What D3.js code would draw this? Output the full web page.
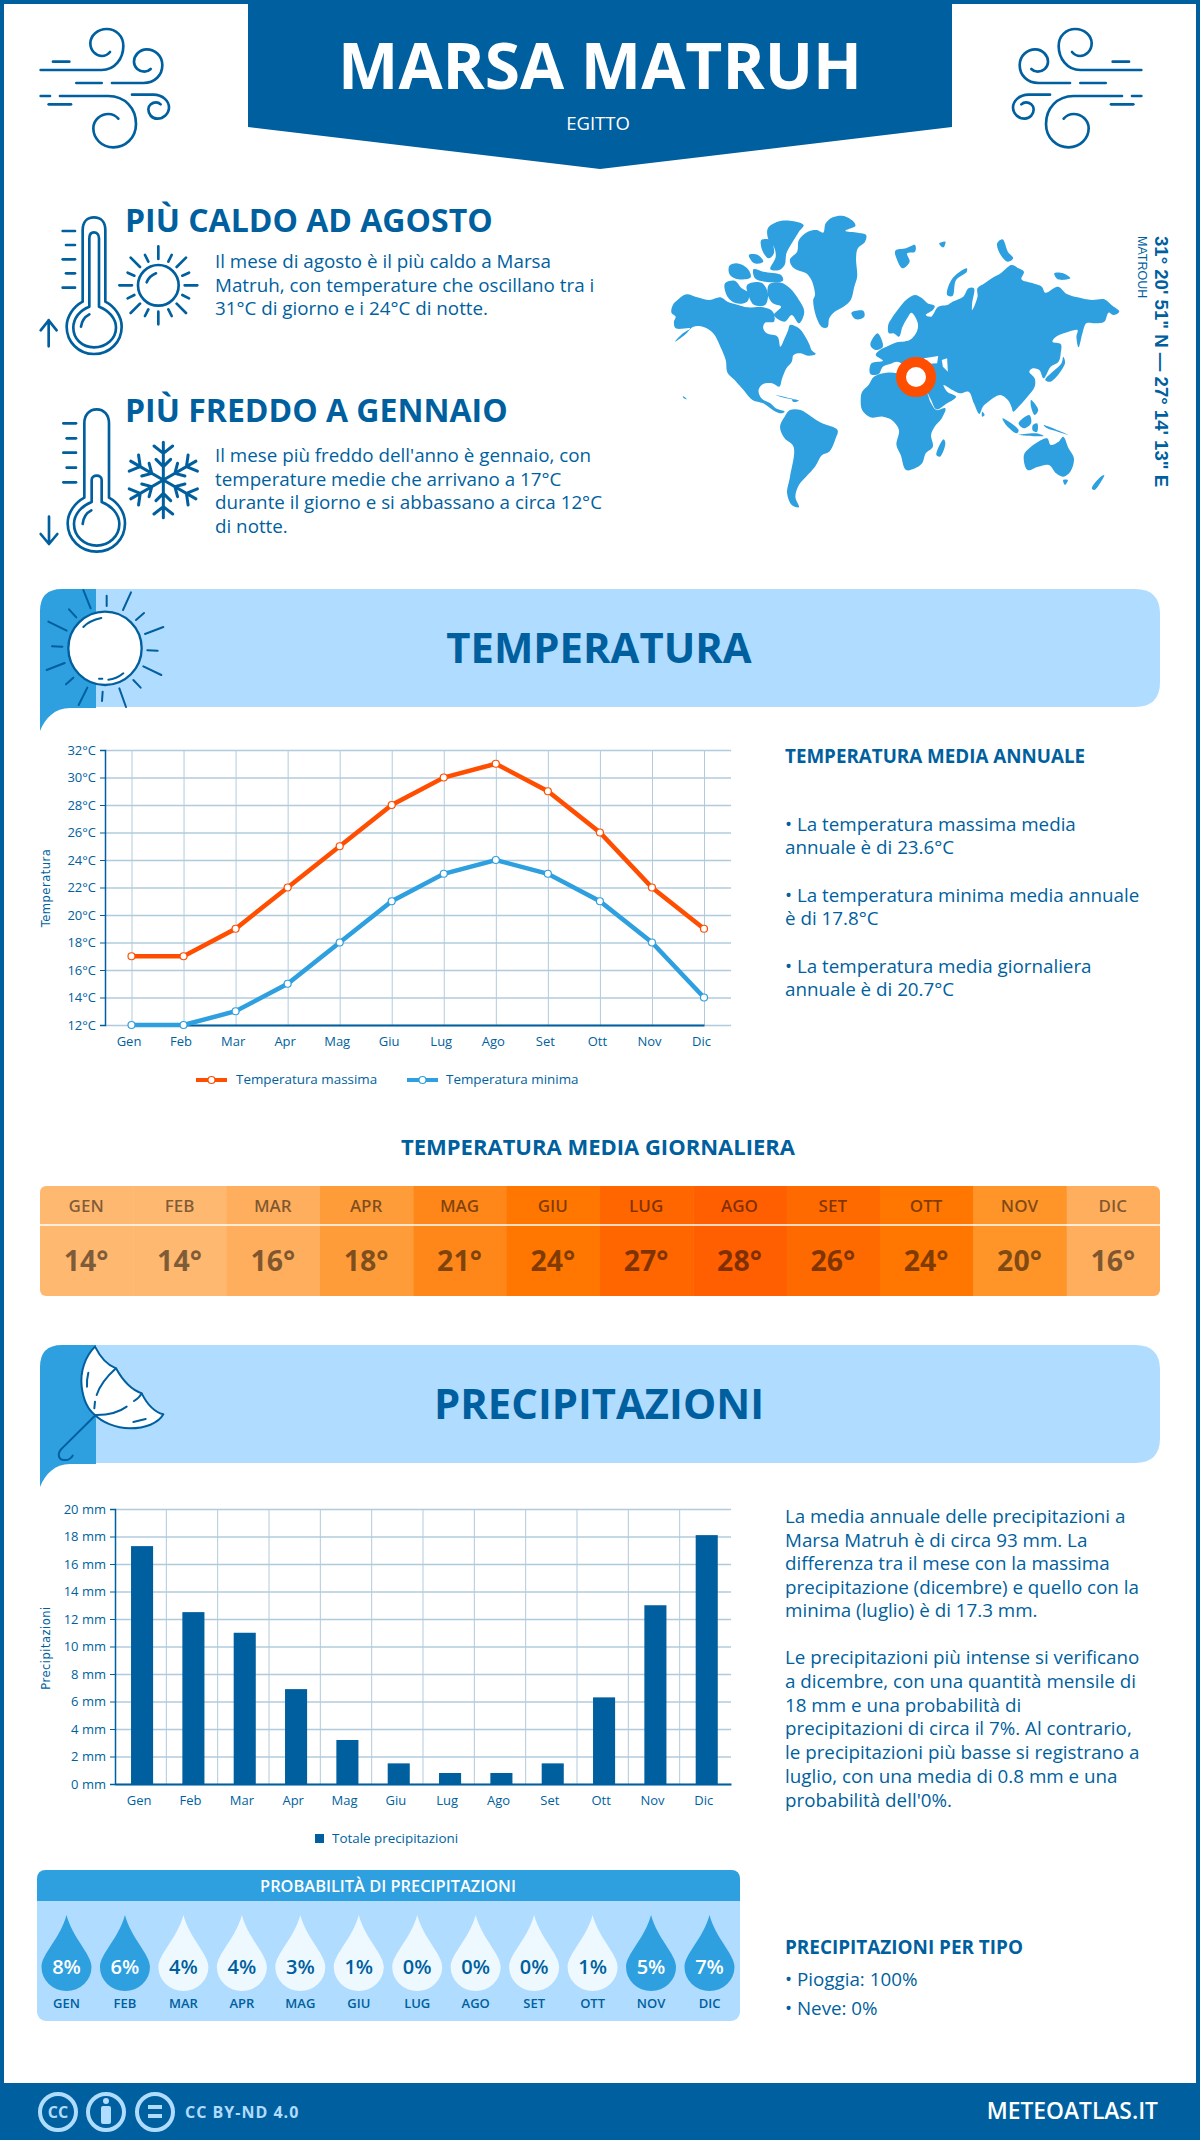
<!DOCTYPE html>
<html>
<head>
<meta charset="utf-8">
<script src="https://cdn.jsdelivr.net/npm/d3@7"></script>
<style>
    html, body { margin: 0; padding: 0; background: #fff; }
    svg { display: block; }
    text { font-family: "Open Sans", sans-serif; fill: #005f9e; }
    .axis text { font-size: 13px; }
    .grid line { stroke: #b1cbdd; }
    .grid path { stroke: none; }
    .grid text { display: none; }
</style>
</head>
<body>
<div id="chart"></div>
<script>
// data
const months = ["Gen", "Feb", "Mar", "Apr", "Mag", "Giu", "Lug", "Ago", "Set", "Ott", "Nov", "Dic"];
const monthsUpper = months.map(d => d.toUpperCase());
const tempMax = [17, 17, 19, 22, 25, 28, 30, 31, 29, 26, 22, 19];
const tempMin = [12, 12, 13, 15, 18, 21, 23, 24, 23, 21, 18, 14];
const tempMean = [14, 14, 16, 18, 21, 24, 27, 28, 26, 24, 20, 16];
const precip = [17.3, 12.5, 11, 6.9, 3.2, 1.5, 0.8, 0.8, 1.5, 6.3, 13, 18.1];
const precipProb = [8, 6, 4, 4, 3, 1, 0, 0, 0, 1, 5, 7];

const hotText = ["Il mese di agosto è il più caldo a Marsa", "Matruh, con temperature che oscillano tra i", "31°C di giorno e i 24°C di notte."];
const coldText = ["Il mese più freddo dell'anno è gennaio, con", "temperature medie che arrivano a 17°C", "durante il giorno e si abbassano a circa 12°C", "di notte."];
const tempNotes = [
    ["• La temperatura massima media", "annuale è di 23.6°C"],
    ["• La temperatura minima media annuale", "è di 17.8°C"],
    ["• La temperatura media giornaliera", "annuale è di 20.7°C"]
];
const rainNotes = [
    ["La media annuale delle precipitazioni a", "Marsa Matruh è di circa 93 mm. La", "differenza tra il mese con la massima", "precipitazione (dicembre) e quello con la", "minima (luglio) è di 17.3 mm."],
    ["Le precipitazioni più intense si verificano", "a dicembre, con una quantità mensile di", "18 mm e una probabilità di", "precipitazioni di circa il 7%. Al contrario,", "le precipitazioni più basse si registrano a", "luglio, con una media di 0.8 mm e una", "probabilità dell'0%."]
];

// colours
const darkBlue = "#005f9e";
const midBlue = "#2e9fdf";
const lightBlue = "#b0dcff";
const orange = "#ff4e00";
const heatColor = d3.scaleOrdinal()
    .domain([14, 16, 18, 20, 21, 24, 26, 27, 28])
    .range(["#ffb870", "#ffae5e", "#ff9c3a", "#ff9429", "#ff8618", "#ff7700", "#ff6a00", "#ff6600", "#ff5f00"]);

let svg = d3.select("#chart")
    .append("svg")
    .attr("width", 1200)
    .attr("height", 2140);

// helper for plain text
function label(parent, x, y, str, size, weight, anchor, color) {
    return parent.append("text")
        .attr("x", x)
        .attr("y", y)
        .attr("text-anchor", anchor || "start")
        .style("font-size", size + "px")
        .style("font-weight", weight || 400)
        .style("fill", color || darkBlue)
        .text(str);
}

// helper for a block of lines
function block(parent, x, y, lines, size, lineHeight) {
    lines.forEach((d, i) => label(parent, x, y + i * lineHeight, d, size));
}

// helper for line icons drawn in zoomed coordinates
function icon(parent, x, y, scale, paths, width) {
    let g = parent.append("g").attr("transform", `translate(${x},${y}) scale(${scale})`);
    g.selectAll("path")
        .data(paths)
        .enter()
        .append("path")
        .attr("d", d => d)
        .attr("fill", "none")
        .attr("stroke", darkBlue)
        .attr("stroke-width", width)
        .attr("stroke-linecap", "round")
        .attr("stroke-linejoin", "round");
    return g;
}

// frame and header
svg.append("rect").attr("x", 2).attr("y", 2).attr("width", 1196).attr("height", 2130)
    .attr("fill", "#fff").attr("stroke", darkBlue).attr("stroke-width", 4);
svg.append("polygon").attr("points", "248,0 952,0 952,127 600,169 248,127").attr("fill", darkBlue);
label(svg, 600, 89, "MARSA MATRUH", 64, 700, "middle", "#fff");
label(svg, 598, 130, "EGITTO", 18.5, 400, "middle", "#fff");

const windPaths = [
    "M32 150H215C255 150 280 115 280 78C280 47 257 27 230 27C203 27 181 47 181 70C181 92 198 108 216 108C226 108 234 103 240 96",
    "M69 125H118", "M139 189H215",
    "M246 189H340C375 189 397 165 397 135C397 108 375 88 350 88C328 88 312 107 312 125C312 143 328 155 343 155C350 155 357 152 362 147",
    "M32 228H60",
    "M90 228H235C285 228 318 265 318 312C318 355 285 382 250 382C215 382 190 355 190 325C190 300 212 282 235 282C248 282 258 288 265 296",
    "M56 253H123",
    "M306 224H370C400 224 417 245 417 262C417 282 400 296 382 296C365 296 355 282 355 268C355 255 367 247 378 247C384 247 389 250 392 253"
];
icon(svg, 30, 20, 1 / 3, windPaths, 8);
icon(svg, 1152, 20, 1 / 3, windPaths, 8).attr("transform", "translate(1152,20) scale(-0.3333,0.3333)");

// hot and cold summaries
icon(svg, 30, 205, 1 / 3, [
    "M158 290V75C158 50 172 37 192 37C212 37 226 50 226 75V290C255 305 275 335 275 365C275 410 240 447 192 447C145 447 110 410 110 365C110 335 130 305 158 290Z",
    "M178 305V100C178 88 184 82 192 82C200 82 207 88 207 100V305C235 315 258 340 258 368C258 400 230 427 192 427C155 427 130 400 130 368C130 340 150 315 178 305Z",
    "M153 365C155 350 165 335 178 328",
    "M98 78H135", "M108 120H135", "M98 163H135", "M108 205H135", "M98 248H135",
    "M56 424V345M32 376L56 346L80 376",
    "M350 232C355 220 365 210 378 205",
    "M385 124V162M385 320V358M268 241H306M464 241H502M302 158L330 186M468 158L440 186M302 324L330 296M468 324L440 296",
    "M345 150L355 170M425 150L415 170M293 203L313 212M477 203L457 212M293 280L313 270M477 280L457 270M345 333L355 313M425 333L415 313"
], 8).append("circle").attr("cx", 385).attr("cy", 241).attr("r", 61)
    .attr("fill", "none").attr("stroke", darkBlue).attr("stroke-width", 8);

let coldIcon = icon(svg, 30, 400, 1 / 3, [
    "M163 293V70C163 45 178 28 200 28C222 28 237 45 237 70V293C265 308 285 338 285 370C285 418 248 455 200 455C152 455 113 418 113 370C113 338 135 308 163 293Z",
    "M185 306V240C185 232 192 227 200 227C208 227 215 232 215 240V306C245 318 268 342 268 372C268 408 238 437 200 437C162 437 132 408 132 372C132 342 155 318 185 306Z",
    "M158 372C160 352 170 338 184 331",
    "M100 70H138", "M110 115H138", "M100 158H138", "M110 203H138", "M100 247H138",
    "M57 350V430M32 402L57 432L82 402"
], 8);
d3.range(6).forEach(i => {
    coldIcon.append("path")
        .attr("d", "M0 0V-113M-22 -62L0 -40L22 -62M-28 -102L0 -80L28 -102")
        .attr("transform", `translate(400,240) rotate(${i * 60})`)
        .attr("fill", "none").attr("stroke", darkBlue).attr("stroke-width", 9)
        .attr("stroke-linecap", "round").attr("stroke-linejoin", "round");
});

label(svg, 125, 232, "PIÙ CALDO AD AGOSTO", 32, 700);
block(svg, 215, 268, hotText, 18.8, 23.6);
label(svg, 125, 422, "PIÙ FREDDO A GENNAIO", 32, 700);
block(svg, 215, 462, coldText, 18.8, 23.6);

// world map, outlines traced by hand
const mapShapes = [
    // north america
    "92,345 105,330 130,313 160,322 195,330 225,322 245,335 275,345 300,352 345,352 372,365 375,395 350,398 345,415 355,430 385,440 393,470 405,445 415,420 420,405 445,415 460,435 475,465 480,480 492,492 470,497 450,490 430,495 425,515 410,535 398,565 390,590 370,580 345,582 332,600 340,625 365,640 380,655 405,665 395,670 375,662 345,640 315,630 290,600 265,570 245,548 240,510 225,470 205,430 180,412 150,410 125,435 98,455 120,430 140,415 100,415 95,395 100,380 88,368",
    // arctic islands
    "238,280 265,272 285,295 305,310 300,335 270,340 245,320", "300,285 340,278 358,310 350,345 320,345 305,320",
    "362,283 395,278 420,295 445,330 460,365 445,400 425,375 405,395 375,375 395,350 372,340 358,315",
    "250,228 270,220 300,235 310,262 275,268 252,255", "318,238 345,245 395,255 400,272 350,275 322,265",
    "305,195 330,195 345,215 320,220", "340,150 365,150 375,190 360,205 342,180",
    "358,115 385,95 420,92 458,105 445,125 425,160 410,190 405,225 390,240 365,238 380,200 375,170 360,150",
    // greenland and iceland
    "420,208 440,185 445,150 470,125 495,120 513,128 520,100 540,82 570,78 598,95 603,108 575,122 610,128 633,135 630,155 610,175 605,205 608,260 600,290 590,330 570,350 545,365 530,385 525,412 510,412 495,385 485,330 490,315 480,270 465,250 440,240 425,228",
    "592,368 625,362 628,380 605,388", "715,182 745,175 770,165 770,185 748,190 755,215 735,235 720,210",
    "1000,160 1015,148 1030,185 1045,205 1030,215 1010,195", "838,160 855,155 850,172 842,168",
    "860,315 875,265 915,235 915,245 885,270 875,318", "1160,250 1185,250 1205,265 1170,268",
    // eurasia
    "697,430 695,405 705,385 725,355 745,330 770,315 790,325 805,340 825,348 820,360 800,375 815,380 835,350 860,345 875,335 905,320 920,295 935,295 930,340 930,360 945,320 945,295 965,280 985,265 1010,250 1040,225 1060,235 1075,245 1068,268 1100,280 1125,290 1135,308 1170,290 1195,312 1225,322 1265,330 1300,328 1320,345 1342,365 1325,375 1312,368 1300,395 1275,400 1250,400 1240,425 1228,472 1222,440 1225,420 1200,425 1165,440 1155,455 1178,462 1178,490 1172,515 1150,530 1130,565 1118,540 1100,535 1090,545 1105,565 1105,590 1085,620 1060,650 1045,665 1040,650 1030,630 1010,615 995,620 975,635 960,650 950,672 935,640 920,605 895,610 875,600 850,585 860,605 885,620 860,640 830,658 815,630 800,600 785,590 790,560 760,540 760,505 745,525 720,515 700,522 680,530 668,552 645,552 648,520 680,512 660,495 672,480 690,470 715,458 755,450 775,425 778,400 760,368 748,385 735,410 725,440 710,430",
    "645,465 665,430 680,470 660,480", "1135,570 1180,520 1185,500 1190,520 1150,575",
    // africa
    "618,630 622,605 640,585 655,560 690,548 720,550 740,560 760,575 785,590 800,600 815,640 830,660 855,655 845,685 825,710 815,735 820,770 800,790 790,820 770,835 745,840 730,795 718,765 725,720 705,690 680,680 645,682 622,660",
    "830,795 850,748 855,760 840,800",
    // south america
    "392,710 405,680 420,660 450,660 480,680 510,700 553,720 548,745 530,785 510,795 490,830 465,860 445,885 435,920 445,952 425,945 412,910 420,860 430,770 405,745",
    // australia and pacific
    "1075,795 1090,775 1115,755 1140,745 1150,765 1172,755 1185,740 1200,775 1215,805 1205,845 1185,860 1165,850 1145,825 1115,830 1085,840",
    "1185,870 1198,870 1190,885", "1265,895 1290,860 1300,855 1285,885 1272,900",
    "1015,685 1060,720 1055,730 1025,705", "1060,735 1130,738 1110,730", "1060,700 1090,675 1095,700 1075,715",
    "1100,705 1112,700 1112,725 1100,722", "1130,705 1200,735 1170,725 1140,715", "1095,630 1115,660 1105,675 1095,650",
    "958,665 965,675 958,680", "380,615 440,630 410,625", "425,628 445,632 430,636", "120,618 132,628 122,624"
];
let mapLine = d3.line().curve(d3.curveCatmullRomClosed.alpha(0.5));
let mapGroup = svg.append("g").attr("transform", "translate(640,190) scale(0.35714,0.33333)");
mapGroup.selectAll("path")
    .data(mapShapes)
    .enter()
    .append("path")
    .attr("d", d => mapLine(d.split(" ").map(p => p.split(",").map(Number))))
    .attr("fill", midBlue);
// inland seas
mapGroup.append("path").attr("d", "M845 510L860 505L862 545L848 530Z").attr("fill", "#fff");
mapGroup.append("path").attr("d", "M795 505L835 498L832 520L800 522Z").attr("fill", "#fff");
svg.append("circle").attr("cx", 916).attr("cy", 377).attr("r", 15)
    .attr("fill", "#fff").attr("stroke", orange).attr("stroke-width", 10);

label(svg, 0, 0, "31° 20' 51\" N — 27° 14' 13\" E", 18.6, 700)
    .style("font-family", "'Liberation Sans', sans-serif")
    .attr("transform", "translate(1155,236) rotate(90)");
label(svg, 0, 0, "MATROUH", 12.5, 400)
    .style("font-family", "'Liberation Sans', sans-serif")
    .attr("transform", "translate(1138,236) rotate(90)");

// section banners
function banner(y, title) {
    let g = svg.append("g").attr("transform", `translate(0,${y})`);
    g.append("path")
        .attr("d", "M96 0H1135Q1160 0 1160 25V93Q1160 118 1135 118H96Z")
        .attr("fill", lightBlue);
    g.append("path")
        .attr("d", "M40 142V22Q40 0 62 0H96V119H70C55 119 45 129 40 142Z")
        .attr("fill", midBlue);
    label(g, 599, 74, title, 41.8, 700, "middle");
    return g;
}
banner(589, "TEMPERATURA");
banner(1345, "PRECIPITAZIONI");

let sunIcon = icon(svg, 30, 585, 1 / 3, [
    "M160 15L182 70M230 32V63M303 22L279 75M342 84L318 105M400 126L345 147M352 196L383 197M340 244L394 270M310 285L332 308M268 310L288 366M216 348L218 320M172 308L146 360M130 278L108 298M104 234L50 255M66 184L97 185M110 137L55 110M117 73L139 97"
], 6);
sunIcon.append("circle").attr("cx", 225).attr("cy", 190).attr("r", 110)
    .attr("fill", "#fff").attr("stroke", darkBlue).attr("stroke-width", 7);
sunIcon.append("path").attr("d", "M160 126C172 113 195 103 214 99M207 281H217M235 284C250 283 268 275 280 265")
    .attr("fill", "none").attr("stroke", darkBlue).attr("stroke-width", 6).attr("stroke-linecap", "round");

let umbrella = icon(svg, 35, 1340, 1 / 3, [], 5);
umbrella.append("path")
    .attr("d", "M180 20C150 50 135 95 140 140C145 180 160 210 180 225C200 245 240 265 285 265C330 265 370 250 385 223C355 215 335 190 320 160C290 150 265 125 243 85C215 75 195 50 180 20Z")
    .attr("fill", "#fff").attr("stroke", darkBlue).attr("stroke-width", 6).attr("stroke-linejoin", "round");
umbrella.append("path")
    .attr("d", "M243 85C215 110 195 135 185 165M180 185L178 205M160 98C157 110 155 125 156 140M320 160C316 168 305 178 297 183M275 200C255 215 225 225 185 225M295 246L332 237M182 225L78 328C65 345 72 360 90 360C100 360 108 355 113 347")
    .attr("fill", "none").attr("stroke", darkBlue).attr("stroke-width", 6).attr("stroke-linecap", "round");

// temperature chart
let tempX = d3.scalePoint().domain(months).range([131.5, 704]);
let tempY = d3.scaleLinear().domain([12, 32]).range([1025, 750]);

svg.append("g").attr("class", "grid").attr("transform", "translate(105,0)")
    .call(d3.axisLeft(tempY).ticks(10).tickSize(-626))
    .selectAll("line").attr("stroke-width", 1.5);
svg.append("g").attr("class", "grid").attr("transform", "translate(0,750)")
    .call(d3.axisBottom(tempX).tickSize(275))
    .selectAll("line").attr("stroke-width", 1);

let tempLeft = svg.append("g").attr("class", "axis").attr("transform", "translate(105,0)")
    .call(d3.axisLeft(tempY).ticks(10).tickSize(5).tickPadding(4).tickFormat(d => d + "°C"));
tempLeft.selectAll("line").attr("stroke", darkBlue);
tempLeft.select("path").attr("stroke", darkBlue).attr("stroke-width", 1.5);

let tempBottom = svg.append("g").attr("class", "axis").attr("transform", "translate(0,1025)")
    .call(d3.axisBottom(tempX).tickSize(0).tickPadding(12));
tempBottom.select("path").attr("stroke", darkBlue).attr("stroke-width", 2);
tempBottom.selectAll("text").attr("dx", -3);

let tempLine = d3.line()
    .x((d, i) => tempX(months[i]))
    .y(d => tempY(d));

[[tempMax, orange], [tempMin, midBlue]].forEach(s => {
    svg.append("path")
        .attr("d", tempLine(s[0]))
        .attr("fill", "none")
        .attr("stroke", s[1])
        .attr("stroke-width", 4.5);
    svg.append("g").selectAll("circle")
        .data(s[0])
        .enter()
        .append("circle")
        .attr("cx", (d, i) => tempX(months[i]))
        .attr("cy", d => tempY(d))
        .attr("r", 3.5)
        .attr("fill", "#fff")
        .attr("stroke", s[1])
        .attr("stroke-width", 1.2);
});

label(svg, 0, 0, "Temperatura", 11.5, 400, "middle")
    .style("font-family", "'DejaVu Sans', sans-serif")
    .style("letter-spacing", "0.5px")
    .attr("transform", "translate(50,888) rotate(-90)");

// temperature legend
[[196, 236, "Temperatura massima", orange], [407, 446, "Temperatura minima", midBlue]].forEach(d => {
    svg.append("line").attr("x1", d[0]).attr("x2", d[0] + 31).attr("y1", 1080).attr("y2", 1080)
        .attr("stroke", d[3]).attr("stroke-width", 4);
    svg.append("circle").attr("cx", d[0] + 15.5).attr("cy", 1080).attr("r", 3.5)
        .attr("fill", "#fff").attr("stroke", d[3]).attr("stroke-width", 1.2);
    label(svg, d[1], 1084, d[2], 13.4);
});

// temperature notes
label(svg, 785, 763, "TEMPERATURA MEDIA ANNUALE", 18.8, 700);
tempNotes.forEach((d, i) => block(svg, 785, 831 + i * 71, d, 18.8, 23));

// daily mean strip
label(svg, 598, 1155, "TEMPERATURA MEDIA GIORNALIERA", 22, 700, "middle");

let stripX = d3.scaleBand().domain(months).range([40, 1160]);
svg.append("clipPath").attr("id", "stripClip")
    .append("rect").attr("x", 40).attr("y", 1186).attr("width", 1120).attr("height", 110).attr("rx", 6);
let strip = svg.append("g").attr("clip-path", "url(#stripClip)");
strip.selectAll("rect")
    .data(tempMean)
    .enter()
    .append("rect")
    .attr("x", (d, i) => stripX(months[i]))
    .attr("y", 1186)
    .attr("width", stripX.bandwidth() + 0.5)
    .attr("height", 110)
    .attr("fill", d => heatColor(d));
svg.append("line").attr("x1", 40).attr("x2", 1160).attr("y1", 1225).attr("y2", 1225)
    .attr("stroke", "#fff").attr("stroke-width", 1.5);
svg.append("g").selectAll("text")
    .data(monthsUpper)
    .enter()
    .append("text")
    .attr("x", (d, i) => stripX(months[i]) + stripX.bandwidth() / 2 - 0.5)
    .attr("y", 1212)
    .attr("text-anchor", "middle")
    .style("font-size", "17px")
    .style("font-weight", 600)
    .style("fill", "#000")
    .style("fill-opacity", 0.5)
    .text(d => d);
svg.append("g").selectAll("text")
    .data(tempMean)
    .enter()
    .append("text")
    .attr("x", (d, i) => stripX(months[i]) + stripX.bandwidth() / 2 - 0.5)
    .attr("y", 1271)
    .attr("text-anchor", "middle")
    .style("font-size", "28.5px")
    .style("font-weight", 700)
    .style("fill", "#000")
    .style("fill-opacity", 0.5)
    .text(d => d + "°");

// precipitation chart
let rainX = d3.scaleBand().domain(months).range([115, 731]).paddingInner(0.57).paddingOuter(0.285);
let rainY = d3.scaleLinear().domain([0, 20]).range([1784, 1509]);

svg.append("g").attr("class", "grid").attr("transform", "translate(115,0)")
    .call(d3.axisLeft(rainY).ticks(10).tickSize(-616))
    .selectAll("line").attr("stroke-width", 1.5);
svg.append("g").selectAll("line")
    .data(months.slice(1))
    .enter()
    .append("line")
    .attr("x1", d => rainX(d) - rainX.step() * 0.285)
    .attr("x2", d => rainX(d) - rainX.step() * 0.285)
    .attr("y1", 1509)
    .attr("y2", 1784)
    .attr("stroke", "#b1cbdd");

let rainLeft = svg.append("g").attr("class", "axis").attr("transform", "translate(115,0)")
    .call(d3.axisLeft(rainY).ticks(10).tickSize(5).tickPadding(4).tickFormat(d => d + " mm"));
rainLeft.selectAll("line").attr("stroke", darkBlue);
rainLeft.select("path").attr("stroke", darkBlue).attr("stroke-width", 1.5);

svg.append("g").selectAll("rect")
    .data(precip)
    .enter()
    .append("rect")
    .attr("x", (d, i) => rainX(months[i]) + 1.4)
    .attr("y", d => rainY(d))
    .attr("width", rainX.bandwidth())
    .attr("height", d => rainY(0) - rainY(d))
    .attr("fill", darkBlue);

let rainBottom = svg.append("g").attr("class", "axis").attr("transform", "translate(0,1784)")
    .call(d3.axisBottom(rainX).tickSize(0).tickPadding(12));
rainBottom.select("path").attr("stroke", darkBlue).attr("stroke-width", 2);
rainBottom.selectAll("text").attr("dx", -1.5);

label(svg, 0, 0, "Precipitazioni", 11.5, 400, "middle")
    .style("font-family", "'DejaVu Sans', sans-serif")
    .style("letter-spacing", "0.5px")
    .attr("transform", "translate(50,1648) rotate(-90)");

svg.append("rect").attr("x", 315).attr("y", 1834).attr("width", 9).attr("height", 9).attr("fill", darkBlue);
label(svg, 332, 1843, "Totale precipitazioni", 13.4);

// precipitation notes
block(svg, 785, 1523, rainNotes[0], 18.8, 23.6);
block(svg, 785, 1664, rainNotes[1], 18.8, 23.8);

// rain probability panel
svg.append("rect").attr("x", 37).attr("y", 1870).attr("width", 703).attr("height", 151).attr("rx", 9).attr("fill", lightBlue);
svg.append("path").attr("d", "M37 1901V1879Q37 1870 46 1870H731Q740 1870 740 1879V1901Z").attr("fill", midBlue);
label(svg, 388, 1892, "PROBABILITÀ DI PRECIPITAZIONI", 16.4, 600, "middle", "#fff");

let dropX = d3.scalePoint().domain(months).range([66.5, 709.5]);
let drops = svg.append("g").selectAll("g")
    .data(precipProb)
    .enter()
    .append("g")
    .attr("transform", (d, i) => `translate(${dropX(months[i])},1966)`);
drops.append("path")
    .attr("d", "M0 -51C6 -28 25 -12 25 1A25 24 0 0 1 -25 1C-25 -12 -6 -28 0 -51Z")
    .attr("fill", d => d >= 5 ? midBlue : "#eef8ff");
drops.append("text")
    .attr("y", 8)
    .attr("text-anchor", "middle")
    .style("font-size", "20px")
    .style("font-weight", 600)
    .style("fill", d => d >= 5 ? "#fff" : darkBlue)
    .text(d => d + "%");
drops.append("text")
    .data(monthsUpper)
    .attr("y", 42)
    .attr("text-anchor", "middle")
    .style("font-size", "13px")
    .style("font-weight", 600)
    .style("fill", darkBlue)
    .text(d => d);

// precipitation by type
label(svg, 785, 1954, "PRECIPITAZIONI PER TIPO", 18.9, 700);
label(svg, 785, 1986, "• Pioggia: 100%", 18.8);
label(svg, 785, 2015, "• Neve: 0%", 18.8);

// footer
svg.append("rect").attr("x", 0).attr("y", 2083).attr("width", 1200).attr("height", 57).attr("fill", darkBlue);
[58, 106, 155].forEach(x => {
    svg.append("circle").attr("cx", x).attr("cy", 2112).attr("r", 18)
        .attr("fill", "none").attr("stroke", lightBlue).attr("stroke-width", 4);
});
label(svg, 58, 2118, "CC", 16, 700, "middle", lightBlue);
svg.append("circle").attr("cx", 106).attr("cy", 2101).attr("r", 3).attr("fill", lightBlue);
svg.append("rect").attr("x", 101).attr("y", 2106).attr("width", 10).attr("height", 18).attr("rx", 2).attr("fill", lightBlue);
svg.append("rect").attr("x", 148).attr("y", 2105).attr("width", 14).attr("height", 4).attr("fill", lightBlue);
svg.append("rect").attr("x", 148).attr("y", 2114).attr("width", 14).attr("height", 4).attr("fill", lightBlue);
label(svg, 185, 2118, "CC BY-ND 4.0", 16, 700, "start", lightBlue).style("letter-spacing", "1px");
label(svg, 1158, 2119, "METEOATLAS.IT", 22.8, 600, "end", "#fff");
</script>
</body>
</html>
